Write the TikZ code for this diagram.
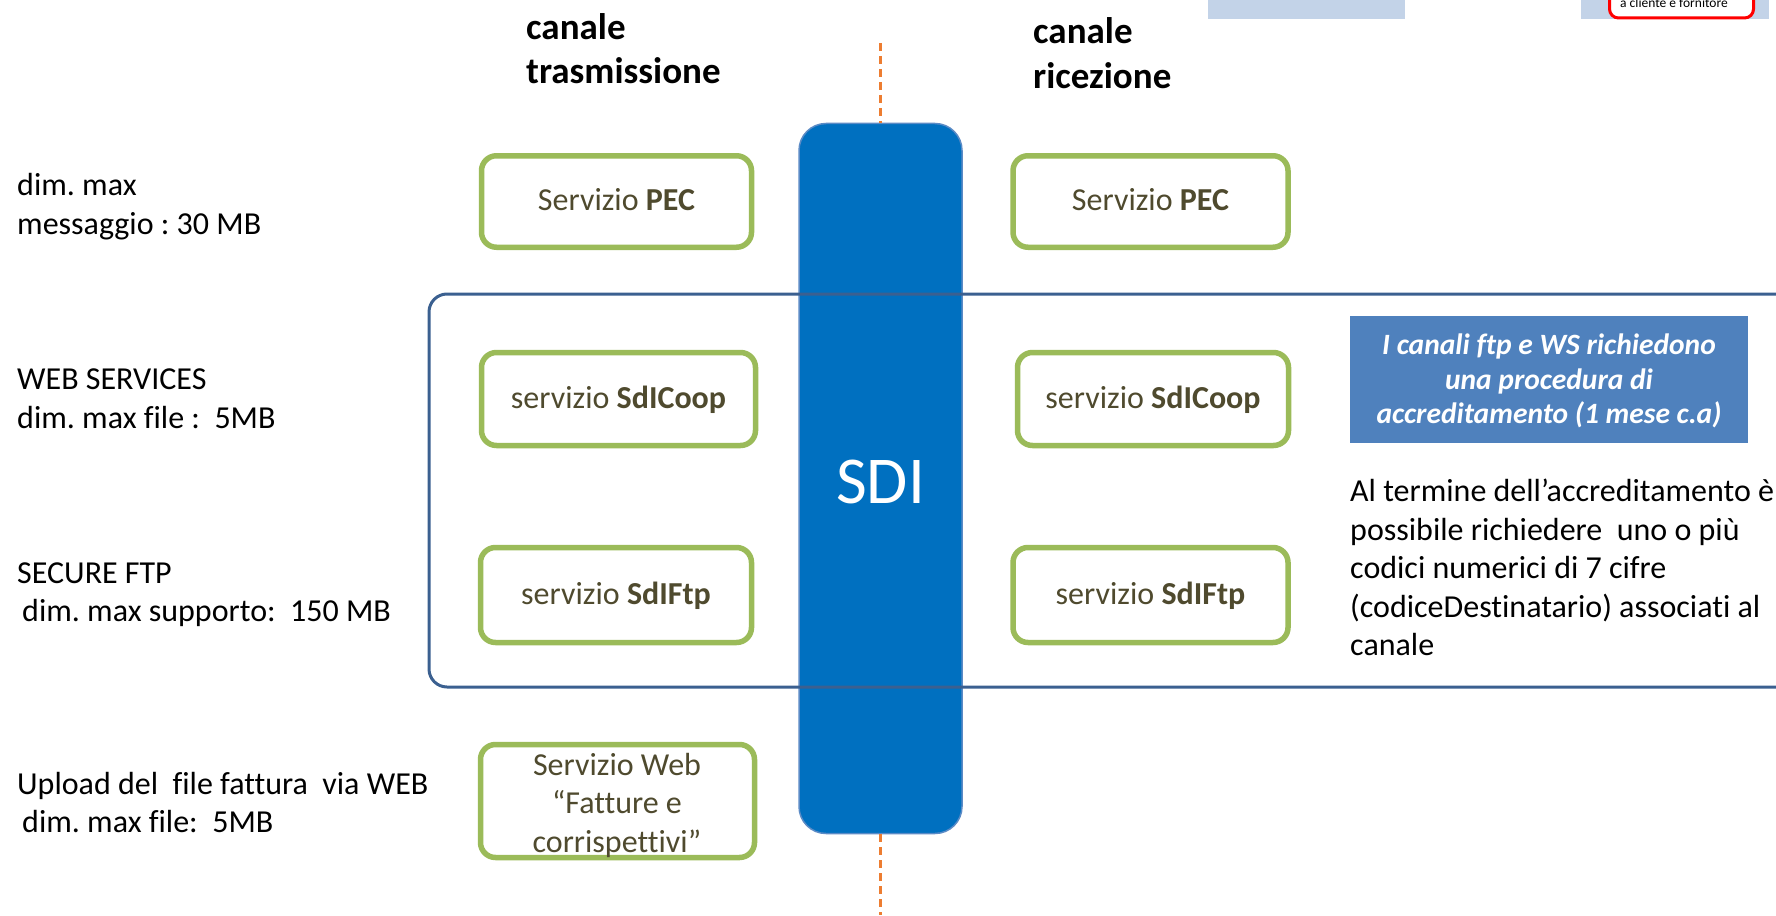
\documentclass[tikz,border=0pt]{standalone}
\usepackage{fontspec}
\setmainfont{Carlito}[Ligatures=NoCommon]
\definecolor{gr}{HTML}{9BBB59}
\definecolor{olv}{HTML}{4F4A2E}
\definecolor{sdi}{HTML}{0070C0}
\definecolor{sdib}{HTML}{5B8BC6}
\definecolor{frame}{HTML}{3B6090}
\definecolor{call}{HTML}{4F81BD}
\definecolor{strip}{HTML}{C3D3E8}
\definecolor{axiscol}{HTML}{ED7D31}
\tikzset{
  svc/.style={draw=gr,line width=5.5pt,rounded corners=15pt,fill=white,text=olv,align=center,inner sep=0pt,
    font=\fontsize{32}{38.5}\selectfont\frenchspacing},
  svcone/.style={svc,text height=28pt,text depth=10pt},
  lab/.style={anchor=west,align=left,inner sep=0pt,text=black,font=\fontsize{32}{38.5}\selectfont\frenchspacing},
  head/.style={anchor=north west,align=left,inner sep=0pt,text=black,font=\fontsize{37}{44.5}\selectfont\bfseries},
  axisline/.style={draw=axiscol,line width=2.5pt,dash pattern=on 8pt off 5pt}
}
\begin{document}
\begin{tikzpicture}[x=1pt,y=-1pt]
\useasboundingbox (0,0) rectangle (1776,915);
% strips of the slide above
\fill[strip] (1208,0) rectangle (1405,19);
\fill[strip] (1581,0) rectangle (1769,19);
\begin{scope}
\clip (0,0) rectangle (1776,915);
\draw[red,line width=3pt,fill=white,rounded corners=9pt] (1609.5,-30) rectangle (1753.5,18);
\node[anchor=base west,inner sep=0pt,font=\fontsize{13.5}{15}\selectfont] (cf) at (1620,7.5) {a cliente e fornitore};
\end{scope}
% centre axis and SDI
\coordinate (axt) at (880.5,43);
\coordinate (axb) at (880.5,915);
\node[draw=sdib,fill=sdi,line width=1.5pt,rounded corners=27pt,minimum width=163pt,minimum height=710pt,inner sep=0pt] (S) at (880.5,478.5) {};
\draw[axisline] (axt) -- (S.north);
\draw[axisline] (S.south) -- (axb);
\node[text=white,font=\fontsize{67}{70}\selectfont,inner sep=0pt] (St) at (880.5,482) {SDI};
% frame
\draw[frame,line width=3pt,rounded corners=18pt] (1780,294) -- (429,294) -- (429,687) -- (1780,687);
% services
\node[svcone,minimum width=270pt,minimum height=91.5pt] (p1) at (616.5,201.5) {Servizio \textbf{PEC}};
\node[svcone,minimum width=275pt,minimum height=91.5pt] (p2) at (1150.5,201.5) {Servizio \textbf{PEC}};
\node[svcone,minimum width=274pt,minimum height=93pt] (c1) at (618.5,399) {servizio \textbf{SdICoop}};
\node[svcone,minimum width=271pt,minimum height=93pt] (c2) at (1153,399) {servizio \textbf{SdICoop}};
\node[svcone,minimum width=271pt,minimum height=95pt] (f1) at (616,595) {servizio \textbf{SdIFtp}};
\node[svcone,minimum width=275pt,minimum height=95pt] (f2) at (1150.5,595) {servizio \textbf{SdIFtp}};
\node[svc,minimum width=274pt,minimum height=113pt] (w) at (617.5,801) {};
\node[text=olv,align=center,inner sep=0pt,font=\fontsize{32}{38.5}\selectfont] (wt) at (617,805) {Servizio Web\\“Fatture e\\corrispettivi”};
% left labels
\node[lab] (l1) at (17,206.75) {dim. max\\messaggio : 30 MB};
\node[lab] (l2) at (17,398.5) {WEB SERVICES\\dim. max file :~ 5MB};
\node[lab] (l3) at (17,594.5) {SECURE FTP\\\hspace*{5pt}dim. max supporto:~ 150 MB};
\node[lab] (l4) at (17,802.75) {Upload del~ file fattura~ via WEB\\\hspace*{5pt}dim. max file:~ 5MB};
% heads
\node[head] (h1) at (526,13) {canale\\trasmissione};
\node[head] (h2) at (1033,17.5) {canale\\ricezione};
% callout
\node[fill=call,text=white,minimum width=398pt,minimum height=127pt,inner sep=0pt,align=center,
  font=\fontsize{29.5}{34.5}\selectfont\bfseries\itshape] (k) at (1549,379.5) {\rule{0pt}{24pt}I canali ftp e WS richiedono\\una procedura di\\accreditamento (1 mese c.a)};
\node[anchor=north west,inner sep=0pt,align=left,font=\fontsize{32}{38.5}\selectfont\frenchspacing] (n) at (1350,479)
{Al termine dell’accreditamento è\\possibile richiedere~ uno o più\\codici numerici di 7 cifre\\(codiceDestinatario) associati al\\canale};
\end{tikzpicture}
\end{document}
